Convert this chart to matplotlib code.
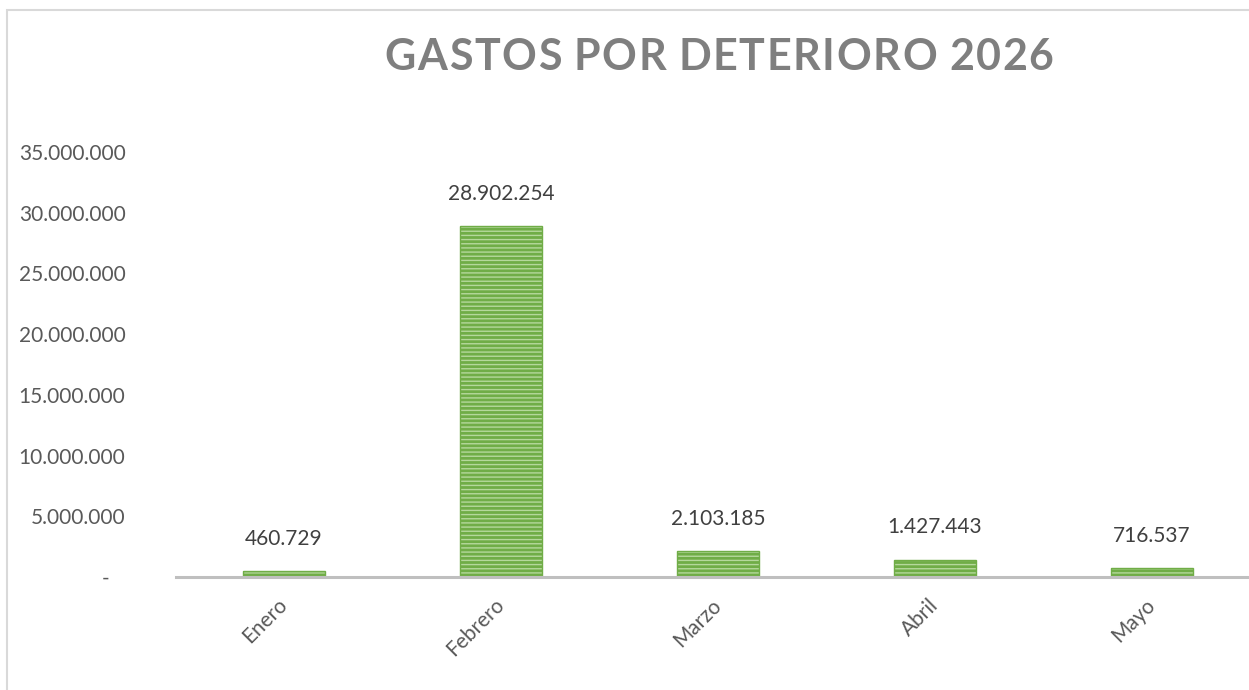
import matplotlib
matplotlib.use("Agg")
import matplotlib.pyplot as plt
from matplotlib.patches import Rectangle
from matplotlib.ticker import FuncFormatter, MultipleLocator

# Datos del grafico
meses = ["Enero", "Febrero", "Marzo", "Abril", "Mayo"]
gastos = [460729, 28902254, 2103185, 1427443, 716537]
titulo = "GASTOS POR DETERIORO 2026"

plt.rcParams['font.family'] = ['Lato', 'DejaVu Sans']

fig = plt.figure(figsize=(12.49, 6.90), dpi=100)
ax = fig.add_axes([175.5 / 1249, 113 / 690, 1085 / 1249, 425 / 690])


def miles(v, pos):
    if v == 0:
        return "-   "
    return f"{int(v):,}".replace(",", ".")


x = list(range(len(meses)))
barras = ax.bar(x, gastos, width=0.378, color="#70AD47", edgecolor="#B5D89C",
                linewidth=0, hatch="----")
for b in barras:
    # borde de la barra
    ax.add_patch(Rectangle(b.get_xy(), b.get_width(), b.get_height(), fill=False,
                           edgecolor="#70AD47", linewidth=1))

for xi, v in zip(x, gastos):
    ax.annotate(miles(v, None), (xi, v), xytext=(0, 16), textcoords="offset points",
                ha="center", va="bottom", fontsize=15, color="#404040")

ax.set_xlim(-0.5, len(meses) - 0.5)
ax.set_ylim(0, 35000000)
ax.yaxis.set_major_locator(MultipleLocator(5000000))
ax.yaxis.set_major_formatter(FuncFormatter(miles))
ax.set_xticks(x)
ax.set_xticklabels(meses, rotation=45, ha="right", va="center", rotation_mode="anchor")

for s in ["top", "right", "left"]:
    ax.spines[s].set_visible(False)
ax.spines["bottom"].set_color("#BFBFBF")
ax.spines["bottom"].set_linewidth(2.2)
ax.spines["bottom"].set_clip_on(False)
ax.tick_params(axis="both", length=0, labelsize=15, labelcolor="#595959")
ax.tick_params(axis="y", pad=36)
ax.tick_params(axis="x", pad=18)

# Borde del area del grafico
fig.patches.append(Rectangle((7 / 1249, 0 - 0.05), 1.2, 1 - 10 / 690 + 0.05,
                             transform=fig.transFigure, fill=False,
                             edgecolor="#D9D9D9", linewidth=1.5))

# Titulo con espaciado entre letras
renderer = fig.canvas.get_renderer()
props = dict(fontsize=31, fontweight="bold", color="#7F7F7F")
anchos = []
for c in titulo:
    if c == " ":
        anchos.append(9.0)
        continue
    t = fig.text(0, 0, c, **props)
    anchos.append(t.get_window_extent(renderer).width)
    t.remove()
espacio = 1.6
total = sum(anchos) + espacio * (len(titulo) - 1)
xpos = 719 - total / 2
for c, w in zip(titulo, anchos):
    if c != " ":
        fig.text(xpos / 1249, 1 - 54 / 690, c, ha="left", va="center_baseline", **props)
    xpos += w + espacio

fig.savefig("out.png", dpi=100)
